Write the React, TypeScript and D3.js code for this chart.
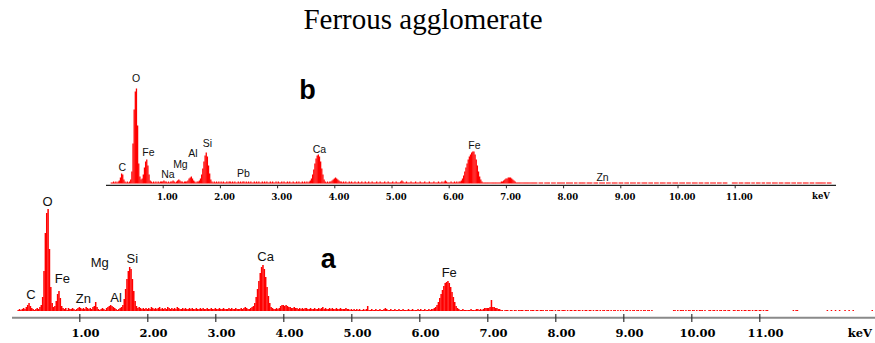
import React, { useEffect, useRef } from "react";
import * as d3 from "d3";

// EDS spectra, one value per 0.02 keV channel starting at 0 keV (25 channels per row = 0.5 keV)
const STEP = 0.02;

const countsA = [
  0, 0, 0, 0, 0, 1, 2, 1, 2, 3, 2, 4, 6, 8, 5, 3, 2, 1, 2, 3, 2, 4, 6, 14, 40,
  78, 98, 102, 62, 24, 8, 4, 5, 10, 17, 20, 13, 5, 3, 2, 3, 1, 3, 2, 2, 3, 2, 1, 2, 3,
  4, 3, 2, 3, 2, 4, 3, 2, 3, 2, 4, 5, 9, 4, 2, 1, 2, 3, 2, 1, 3, 4, 5, 6, 5,
  4, 3, 2, 1, 2, 3, 4, 6, 12, 22, 32, 40, 44, 42, 32, 20, 10, 5, 3, 4, 3, 2, 3, 2, 3,
  2, 3, 2, 4, 3, 2, 3, 2, 3, 4, 2, 3, 2, 3, 2, 4, 3, 2, 3, 2, 3, 2, 4, 3, 2,
  2, 3, 2, 3, 2, 2, 3, 2, 3, 2, 2, 3, 2, 2, 3, 2, 3, 2, 2, 3, 2, 2, 3, 2, 2,
  3, 2, 2, 3, 2, 2, 3, 2, 2, 2, 3, 2, 3, 2, 2, 3, 2, 2, 2, 3, 2, 3, 4, 3, 2,
  2, 3, 4, 5, 8, 14, 22, 30, 38, 44, 46, 42, 34, 24, 15, 8, 4, 3, 2, 2, 3, 2, 3, 5, 6,
  6, 5, 6, 5, 4, 4, 3, 3, 4, 3, 3, 2, 3, 2, 3, 2, 3, 3, 2, 2, 3, 2, 2, 3, 2,
  2, 3, 2, 3, 4, 2, 3, 2, 2, 3, 2, 3, 2, 2, 3, 2, 2, 3, 2, 2, 2, 3, 2, 2, 1,
  2, 1, 2, 1, 2, 1, 2, 1, 1, 2, 1, 2, 5, 1, 1, 2, 1, 1, 2, 1, 1, 2, 1, 1, 2,
  3, 2, 1, 1, 2, 1, 1, 2, 1, 1, 2, 1, 1, 2, 1, 1, 1, 2, 1, 1, 2, 1, 1, 1, 2,
  1, 2, 1, 1, 2, 1, 1, 2, 1, 2, 2, 3, 4, 6, 9, 13, 17, 21, 25, 28, 29, 30, 28, 24, 19,
  14, 9, 5, 3, 2, 1, 1, 2, 1, 1, 1, 1, 1, 2, 1, 1, 1, 2, 2, 1, 2, 1, 2, 3, 3,
  3, 3, 4, 11, 4, 4, 3, 3, 2, 2, 1, 1, 0, 1, 1, 1, 0, 1, 1, 0, 1, 1, 0, 1, 1,
  1, 1, 0, 1, 1, 1, 0, 1, 1, 1, 0, 1, 1, 0, 1, 1, 1, 0, 1, 1, 0, 1, 1, 1, 0,
  1, 0, 1, 1, 0, 1, 1, 1, 0, 1, 0, 1, 1, 0, 1, 1, 0, 1, 1, 0, 1, 0, 1, 1, 0,
  1, 1, 0, 1, 0, 1, 1, 0, 1, 0, 1, 1, 0, 1, 1, 0, 1, 0, 1, 1, 0, 1, 0, 1, 0,
  1, 0, 1, 1, 0, 1, 0, 1, 1, 0, 1, 1, 0, 1, 0, 1, 1, 0, 1, 1, 0, 1, 0, 0, 0,
  0, 0, 0, 0, 0, 0, 0, 0, 0, 0, 0, 0, 1, 1, 0, 1, 0, 1, 1, 1, 0, 1, 0, 1, 1,
  0, 1, 1, 0, 1, 0, 1, 1, 1, 0, 1, 0, 0, 1, 1, 0, 1, 1, 0, 1, 0, 1, 1, 0, 1,
  1, 0, 1, 1, 0, 0, 1, 1, 0, 1, 1, 0, 1, 0, 1, 1, 0, 1, 1, 0, 1, 0, 1, 1, 0,
  1, 1, 0, 1, 0, 1, 1, 0, 0, 0, 0, 0, 0, 0, 0, 0, 0, 0, 0, 0, 0, 0, 0, 0, 0,
  1, 0, 1, 1, 0, 0, 0, 0, 0, 0, 0, 0, 0, 0, 0, 0, 0, 0, 0, 0, 0, 0, 0, 0, 0,
  1, 0, 0, 1, 0, 0, 1, 0, 0, 1, 0, 0, 0, 1, 0, 0, 1, 0, 0, 1, 0, 0, 0, 0, 0,
  0, 0, 0, 0, 0, 0, 0, 0, 1, 0, 0, 0, 0, 0, 0, 0, 0, 0, 0, 0, 0, 0, 0, 0, 0,
];

const countsB = [
  0, 0, 0, 0, 0, 1, 1, 2, 1, 2, 1, 2, 3, 6, 10, 9, 4, 2, 1, 2, 1, 2, 4, 12, 40,
  74, 92, 95, 58, 20, 7, 4, 5, 9, 16, 22, 24, 18, 9, 3, 2, 1, 2, 1, 2, 1, 2, 1, 2, 2,
  2, 3, 2, 2, 1, 2, 1, 2, 2, 3, 2, 1, 2, 3, 4, 3, 2, 2, 1, 2, 2, 2, 3, 5, 6,
  7, 5, 3, 2, 1, 2, 2, 3, 5, 9, 15, 22, 28, 31, 27, 18, 10, 4, 2, 1, 2, 1, 2, 1, 2,
  1, 2, 1, 2, 1, 1, 2, 1, 2, 2, 1, 2, 1, 2, 1, 1, 2, 1, 2, 1, 2, 2, 1, 2, 1,
  2, 1, 2, 1, 1, 2, 1, 2, 1, 2, 1, 1, 2, 1, 2, 1, 2, 1, 1, 2, 1, 2, 1, 1, 2,
  1, 2, 1, 1, 2, 1, 2, 1, 1, 2, 1, 2, 1, 1, 2, 1, 1, 2, 1, 2, 1, 1, 2, 1, 2,
  1, 2, 1, 2, 3, 5, 9, 14, 20, 25, 28, 29, 27, 22, 15, 9, 4, 2, 1, 2, 1, 2, 2, 3, 4,
  5, 6, 5, 4, 3, 2, 2, 1, 2, 1, 2, 1, 1, 2, 1, 2, 1, 1, 2, 1, 1, 2, 1, 1, 2,
  1, 1, 2, 1, 1, 2, 1, 1, 2, 1, 1, 1, 2, 1, 1, 2, 1, 1, 1, 2, 1, 1, 2, 1, 1,
  1, 2, 1, 1, 2, 1, 1, 1, 2, 3, 2, 1, 1, 2, 1, 1, 1, 2, 1, 1, 1, 2, 1, 1, 1,
  2, 1, 1, 1, 2, 1, 1, 1, 2, 1, 1, 1, 2, 1, 1, 1, 2, 1, 1, 2, 1, 2, 3, 2, 1,
  1, 1, 2, 1, 1, 2, 1, 2, 1, 2, 2, 3, 5, 8, 12, 16, 20, 24, 27, 29, 31, 32, 32, 29, 24,
  18, 12, 7, 4, 2, 1, 1, 1, 1, 1, 1, 1, 1, 1, 1, 1, 1, 1, 1, 1, 1, 2, 2, 3, 4,
  5, 5, 6, 6, 6, 5, 4, 3, 2, 1, 1, 1, 1, 1, 1, 1, 1, 1, 1, 1, 1, 1, 1, 1, 1,
  1, 1, 1, 0, 1, 1, 1, 1, 0, 1, 1, 1, 1, 1, 0, 1, 1, 1, 1, 0, 1, 1, 1, 1, 1,
  1, 1, 0, 1, 1, 1, 1, 1, 1, 0, 1, 1, 1, 0, 1, 1, 1, 1, 1, 1, 0, 1, 1, 1, 1,
  1, 0, 1, 1, 1, 1, 0, 1, 1, 1, 1, 1, 0, 1, 1, 1, 1, 0, 1, 1, 1, 1, 1, 0, 1,
  1, 1, 1, 0, 1, 1, 1, 1, 0, 1, 1, 1, 1, 1, 0, 1, 1, 1, 0, 1, 1, 1, 1, 1, 0,
  1, 1, 1, 1, 0, 1, 1, 1, 1, 0, 1, 1, 1, 1, 1, 0, 1, 1, 1, 1, 0, 1, 1, 1, 1,
  1, 0, 1, 1, 1, 1, 1, 0, 1, 1, 1, 1, 0, 1, 1, 1, 1, 1, 0, 1, 1, 1, 1, 0, 1,
  1, 1, 1, 0, 1, 1, 1, 1, 1, 0, 1, 1, 1, 1, 0, 1, 1, 1, 1, 0, 0, 0, 0, 1, 1,
  1, 1, 1, 0, 1, 1, 1, 1, 0, 1, 1, 1, 1, 1, 0, 1, 1, 1, 0, 1, 1, 1, 1, 0, 1,
  1, 1, 0, 1, 1, 1, 1, 0, 1, 1, 1, 1, 1, 0, 1, 1, 1, 1, 0, 1, 1, 1, 1, 1, 0,
  1, 1, 1, 1, 0, 1, 1, 1, 1, 0, 1, 1, 1, 1, 1, 0, 1, 1, 1, 1, 0, 1, 1, 1, 1,
  1, 1, 1, 1, 1, 0, 1, 1, 1, 1, 0, 0, 0, 0, 0, 0, 0, 0, 0, 0, 0, 0, 0, 0, 0,
];

const tickKev = [1, 2, 3, 4, 5, 6, 7, 8, 9, 10, 11];

const labelsA = ["C", "O", "Fe", "Zn", "Mg", "Al", "Si", "Ca", "Fe"];
const labelKevA = [0.29, 0.535, 0.75, 1.06, 1.3, 1.54, 1.78, 3.74, 6.44];
const labelCountA = [11.7, 105, 28.3, 7.7, 43.7, 9.3, 47.7, 50, 33.7];

const labelsB = ["C", "O", "Fe", "Na", "Mg", "Al", "Si", "Pb", "Ca", "Fe", "Zn"];
const labelKevB = [0.294, 0.533, 0.75, 1.09, 1.31, 1.53, 1.78, 2.41, 3.74, 6.45, 8.69];
const labelCountB = [12.5, 101.8, 27.8, 5.2, 15.2, 26.2, 36.8, 6.8, 30.8, 34.2, 2.8];

const W = 875;
const H = 343;
const RED = "#ff0000";

const xA = d3.scaleLinear().domain([0, 12.8]).range([11.3, 11.3 + 12.8 * 68]);
const yA = d3.scaleLinear().domain([0, 100]).range([311, 211]);
const xB = d3.scaleLinear().domain([0, 12.8]).range([105.5, 105.5 + 12.8 * 57.2]);
const yB = d3.scaleLinear().domain([0, 100]).range([183.5, 83.5]);

function Spectrum({ counts, x, y }) {
  const w = x(STEP) - x(0);
  return (
    <g fill={RED}>
      {counts.map((c, i) =>
        c > 0 ? (
          <rect
            key={i}
            x={x(i * STEP) - w / 2}
            width={w + 0.15}
            y={y(c)}
            height={y(0) - y(c)}
          />
        ) : null
      )}
    </g>
  );
}

export default function App() {
  const axisARef = useRef(null);
  const axisBRef = useRef(null);

  useEffect(() => {
    const gA = d3.select(axisARef.current);
    gA.call(
      d3.axisBottom(xA).tickValues(tickKev).tickFormat(d3.format(".2f")).tickSize(8).tickSizeOuter(0)
    );
    gA.select(".domain").remove();
    gA.selectAll(".tick line").attr("stroke", "#333").attr("stroke-width", 1.2);
    gA.selectAll(".tick text")
      .attr("y", 23.3)
      .attr("dy", 0)
      .attr("dx", 5.7)
      .attr("fill", "#000")
      .style("font-family", "'DejaVu Serif', serif")
      .style("font-weight", "bold")
      .style("font-size", "11.5px");

    const gB = d3.select(axisBRef.current);
    gB.call(
      d3.axisBottom(xB).tickValues(tickKev).tickFormat(d3.format(".2f")).tickSize(3).tickSizeOuter(0)
    );
    gB.select(".domain").remove();
    gB.selectAll(".tick line").attr("stroke", "#222");
    gB.selectAll(".tick text")
      .attr("y", 14.7)
      .attr("dy", 0)
      .attr("dx", 4.2)
      .attr("fill", "#000")
      .style("font-family", "'DejaVu Serif', serif")
      .style("font-weight", "bold")
      .style("font-size", "8.5px");
  }, []);

  return (
    <svg
      width={W}
      height={H}
      style={{ position: "absolute", left: 0, top: 0, background: "#fff" }}
    >
      <text
        x={423}
        y={29}
        textAnchor="middle"
        fontFamily="'Liberation Serif', 'Times New Roman', serif"
        fontSize={29}
        fill="#000"
      >
        Ferrous agglomerate
      </text>

      {/* panel b */}
      <Spectrum counts={countsB} x={xB} y={yB} />
      <line x1={106} x2={836} y1={185.3} y2={185.3} stroke="#222" strokeWidth={1.3} />
      <g ref={axisBRef} transform="translate(0,185.3)" />
      <text x={812} y={199.3} fontFamily="'DejaVu Serif', serif" fontWeight="bold" fontSize={8.5}>
        keV
      </text>
      <g fontFamily="'Liberation Sans', Arial, sans-serif" fontSize={10.5} fill="#111" textAnchor="middle">
        {labelsB.map((t, i) => (
          <text key={i} x={xB(labelKevB[i])} y={yB(labelCountB[i])}>
            {t}
          </text>
        ))}
      </g>
      <text x={299.3} y={99.3} fontFamily="'Liberation Sans', Arial, sans-serif" fontWeight="bold" fontSize={27}>
        b
      </text>

      {/* panel a */}
      <Spectrum counts={countsA} x={xA} y={yA} />
      <line x1={12} x2={W} y1={317.7} y2={317.7} stroke="#8a8a8a" strokeWidth={2} />
      <g ref={axisARef} transform="translate(0,314)" />
      <text x={872} y={337.3} textAnchor="end" fontFamily="'DejaVu Serif', serif" fontWeight="bold" fontSize={11.5}>
        keV
      </text>
      <g fontFamily="'Liberation Sans', Arial, sans-serif" fontSize={13} fill="#111" textAnchor="middle">
        {labelsA.map((t, i) => (
          <text key={i} x={xA(labelKevA[i])} y={yA(labelCountA[i])}>
            {t}
          </text>
        ))}
      </g>
      <text x={320.7} y={268.3} fontFamily="'Liberation Sans', Arial, sans-serif" fontWeight="bold" fontSize={27}>
        a
      </text>
    </svg>
  );
}
